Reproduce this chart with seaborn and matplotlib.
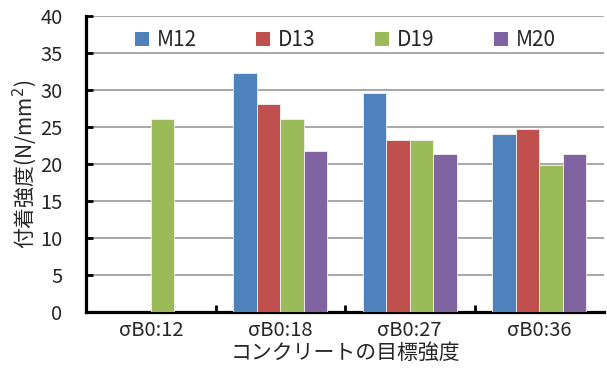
import numpy as np
import pandas as pd
import matplotlib
matplotlib.use("Agg")
import matplotlib.pyplot as plt
from matplotlib.patches import Patch
import seaborn as sns

# Target concrete strengths (x categories) and bar series (bond strength, N/mm^2)
categories = ["σB0:12", "σB0:18", "σB0:27", "σB0:36"]
series = ["M12", "D13", "D19", "M20"]
m12 = [np.nan, 32.3, 29.6, 24.1]
d13 = [np.nan, 28.1, 23.3, 24.7]
d19 = [26.1, 26.1, 23.3, 19.9]
m20 = [np.nan, 21.7, 21.4, 21.4]
colors = ["#4F81BD", "#C0504D", "#9BBB59", "#8064A2"]
yticks = [0, 5, 10, 15, 20, 25, 30, 35, 40]

rows = []
for name, vals in zip(series, [m12, d13, d19, m20]):
    for cat, v in zip(categories, vals):
        rows.append({"cat": cat, "series": name, "value": v})
df = pd.DataFrame(rows).dropna()

sns.set_theme(style="white")
plt.rcParams["font.family"] = ["Noto Sans CJK JP", "DejaVu Sans"]

fig = plt.figure(figsize=(6.07, 3.74), dpi=100)
ax = fig.add_axes([86 / 607, 1 - 312 / 374, (604 - 86) / 607, (312 - 16) / 374])

sns.barplot(data=df, x="cat", y="value", hue="series", order=categories,
            hue_order=series, palette=colors, width=0.725, dodge=True,
            saturation=1, errorbar=None, edgecolor="#f2f2f2", linewidth=0.6,
            legend=False, ax=ax, zorder=3)

ax.set_xlim(-0.5, 3.5)
ax.set_ylim(0, 40)
ax.set_yticks(yticks)
ax.yaxis.grid(True, color="#a0a0a0", linewidth=1.3, zorder=0)
ax.xaxis.grid(False)
ax.set_axisbelow(True)

for side in ["top", "right"]:
    ax.spines[side].set_visible(False)
for side in ["left", "bottom"]:
    ax.spines[side].set_color("black")
    ax.spines[side].set_linewidth(2.3)

ax.tick_params(axis="y", direction="in", length=5, width=2, color="black",
               labelsize=14.5, pad=17, left=True)
ax.tick_params(axis="x", which="major", length=0, labelsize=14.5, pad=6)
ax.set_xticks([0.5, 1.5, 2.5], minor=True)
ax.tick_params(axis="x", which="minor", direction="in", length=5, width=2,
               color="black", bottom=True)

ax.set_xlabel("コンクリートの目標強度", fontsize=15, labelpad=0)
ax.set_ylabel("付着強度(N/mm$^2$)", fontsize=15, labelpad=1)

handles = [Patch(facecolor=c, edgecolor="none", label=s) for s, c in zip(series, colors)]
ax.legend(handles=handles, ncol=4, loc="upper center", bbox_to_anchor=(0.5, 1.005),
          frameon=False, fontsize=15, handlelength=0.7, handleheight=0.7,
          handletextpad=0.35, columnspacing=2.85, borderaxespad=0.3)

fig.savefig("out.png", dpi=100)
